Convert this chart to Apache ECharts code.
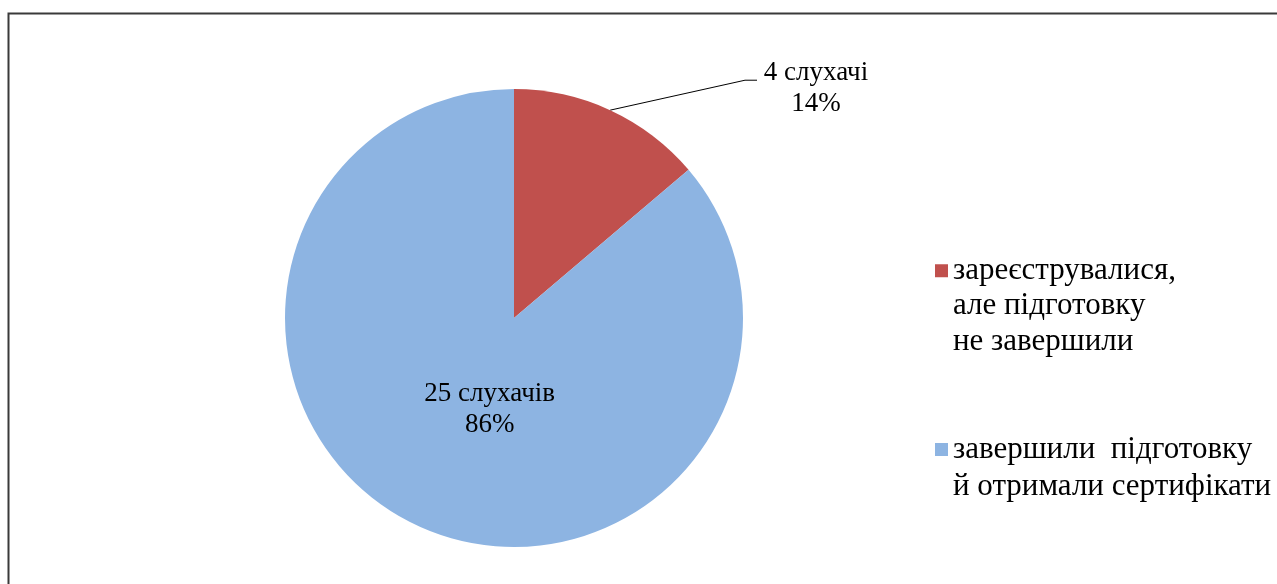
<!DOCTYPE html>
<html>
<head>
<meta charset="utf-8">
<script src="https://cdn.jsdelivr.net/npm/echarts@6/dist/echarts.min.js"></script>
<style>
html, body { margin: 0; padding: 0; background: #fff; }
#chart { width: 1277px; height: 584px; }
</style>
</head>
<body>
<div id="chart"></div>
<script>
// категорії (легенда)
var categories = ['зареєструвалися,\nале підготовку\nне завершили', 'завершили  підготовку\nй отримали сертифікати'];
// кількість слухачів
var values = [4, 25];
// підписи секторів
var labelTexts = ['4 слухачі', '25 слухачів'];
var colors = ['#C0504D', '#8DB4E2'];

var serif = '"Liberation Serif", "Times New Roman", serif';
var labelFs = 27;
var legendFs = 31;

var myChart = echarts.init(document.getElementById('chart'));

// значок легенди стоїть на рівні першого рядка: зверху додаємо порожні рядки
function legendText(name) {
	var n = name.split('\n').length;
	var pre = '';
	for (var k = 1; k < n; k++) pre += '\n';
	return pre + name;
}

var pieData = [];
for (var i = 0; i < values.length; i++) {
	var item = {
		name: categories[i],
		value: values[i],
		itemStyle: { color: colors[i] }
	};
	if (i == 0) {
		item.label = { position: 'outside', padding: [16, 0, 0, 0] };
		item.labelLine = { show: true, length: 33, length2: 133, lineStyle: { color: '#000', width: 1 } };
	} else {
		item.label = { position: 'inside' };
		item.labelLine = { show: false };
	}
	pieData.push(item);
}

var option = {
	animation: false,
	backgroundColor: '#fff',
	graphic: [{
		type: 'rect',
		left: 6,
		top: 11,
		shape: { width: 1300, height: 600 },
		style: { fill: 'none', stroke: '#3a3a3a', lineWidth: 2 }
	}],
	legend: [{
		orient: 'vertical',
		left: 935,
		top: 182,
		padding: 0,
		icon: 'rect',
		itemWidth: 13,
		itemHeight: 13,
		selectedMode: false,
		data: [categories[0]],
		formatter: legendText,
		textStyle: { fontFamily: serif, fontSize: legendFs, lineHeight: 35.5, color: '#000' }
	}, {
		orient: 'vertical',
		left: 935,
		top: 394,
		padding: 0,
		icon: 'rect',
		itemWidth: 13,
		itemHeight: 13,
		selectedMode: false,
		data: [categories[1]],
		formatter: legendText,
		textStyle: { fontFamily: serif, fontSize: legendFs, lineHeight: 37, color: '#000' }
	}],
	series: [{
		type: 'pie',
		center: [514, 318],
		radius: 229,
		startAngle: 90,
		avoidLabelOverlap: false,
		emphasis: { disabled: true },
		label: {
			color: '#000',
			fontFamily: serif,
			fontSize: labelFs,
			lineHeight: 31,
			formatter: function (p) {
				var pct = Math.round(p.percent) + '%';
				if (p.dataIndex == 0) {
					return '{a|' + labelTexts[p.dataIndex] + '}\n{a|' + pct + '}';
				}
				return labelTexts[p.dataIndex] + '\n' + pct;
			},
			rich: {
				a: { width: 108, align: 'center', fontFamily: serif, fontSize: labelFs, lineHeight: 31, color: '#000' }
			}
		},
		// лінія-виноска: довгий похилий відрізок і короткий горизонтальний
		labelLayout: function (params) {
			if (params.dataIndex == 0 && params.labelLinePoints) {
				var pts = params.labelLinePoints;
				return {
					labelLinePoints: [pts[0], [pts[2][0] - 12, pts[2][1]], pts[2]]
				};
			}
			return { dx: 25, dy: -15 };
		},
		data: pieData
	}]
};
myChart.setOption(option);
</script>
</body>
</html>
